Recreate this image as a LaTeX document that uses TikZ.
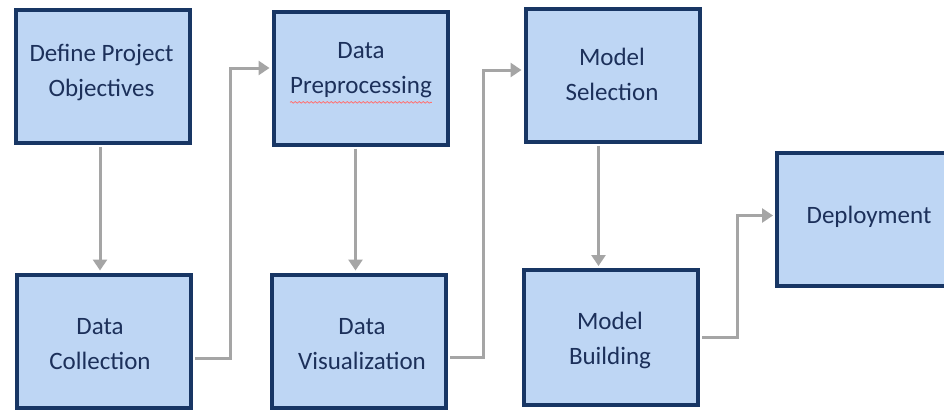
\documentclass[tikz,border=0pt]{standalone}
\usepackage{fontspec}
\setmainfont{Carlito}
\usetikzlibrary{arrows.meta,decorations.pathmorphing}
\definecolor{boxfill}{RGB}{190,214,244}
\definecolor{boxline}{RGB}{24,54,100}
\definecolor{txt}{RGB}{28,48,90}
\definecolor{conncol}{RGB}{165,165,165}
\tikzset{
  stagebox/.style={draw=boxline, fill=boxfill, line width=4pt,
    minimum width=174pt, minimum height=133pt, inner sep=0pt},
  stagetext/.style={text=txt, align=center, inner sep=0pt,
    font=\fontsize{25pt}{35pt}\selectfont},
  conn/.style={draw=conncol, line width=3pt,
    -{Triangle[length=11pt,width=14pt]}, shorten >=2pt, shorten <=2pt},
}
\begin{document}
\begin{tikzpicture}[x=1pt, y=-1pt]
\useasboundingbox (0,0) rectangle (944,410);
\clip (0,0) rectangle (944,410);
\fill[white] (0,0) rectangle (944,410);

% stage boxes
\node[stagebox] (def) at (103,76.5) {};
\node[stagebox] (pre) at (360.5,78) {};
\node[stagebox] (sel) at (612.5,75) {};
\node[stagebox] (col) at (104,341) {};
\node[stagebox] (vis) at (359,341) {};
\node[stagebox, minimum height=135pt] (bld) at (611,337.5) {};
\node[stagebox] (dep) at (864,219.5) {};

% stage labels
\node[stagetext] (tdef) at (101.5,72.5) {Define Project\\Objectives};
\node[stagetext] (tpre) at (361,70.5) {Data\\Preprocessing};
\node[stagetext] (tsel) at (612,74) {Model\\Selection};
\node[stagetext] (tcol) at (100,344) {Data\\Collection};
\node[stagetext] (tvis) at (362,344) {Data\\Visualization};
\node[stagetext] (tbld) at (610,340.5) {Model\\Building};
\node[stagetext] (tdep) at (869,216.5) {Deployment};

% spelling underline
\draw[red!55, line width=0.8pt,
  decorate, decoration={snake, amplitude=0.8pt, segment length=4pt}]
  ([yshift=-4pt]tpre.south west) -- ([yshift=-4pt]tpre.south east);

% flow connectors
\draw[conn] ([xshift=-3pt]def.south) -- ([xshift=-3pt]def.south |- col.north);
\draw[conn] ([yshift=-17pt]col.east) -- ++(37,0) |- ([yshift=10pt]pre.west);
\draw[conn] ([xshift=-5pt]pre.south) -- ([xshift=-5pt]pre.south |- vis.north);
\draw[conn] ([yshift=-16pt]vis.east) -- ++(35,0) |- ([yshift=5pt]sel.west);
\draw[conn] ([xshift=-14pt]sel.south) -- ([xshift=-14pt]sel.south |- bld.north);
\draw[conn] (bld.east) -- ++(37,0) |- ([yshift=4pt]dep.west);
\end{tikzpicture}
\end{document}
